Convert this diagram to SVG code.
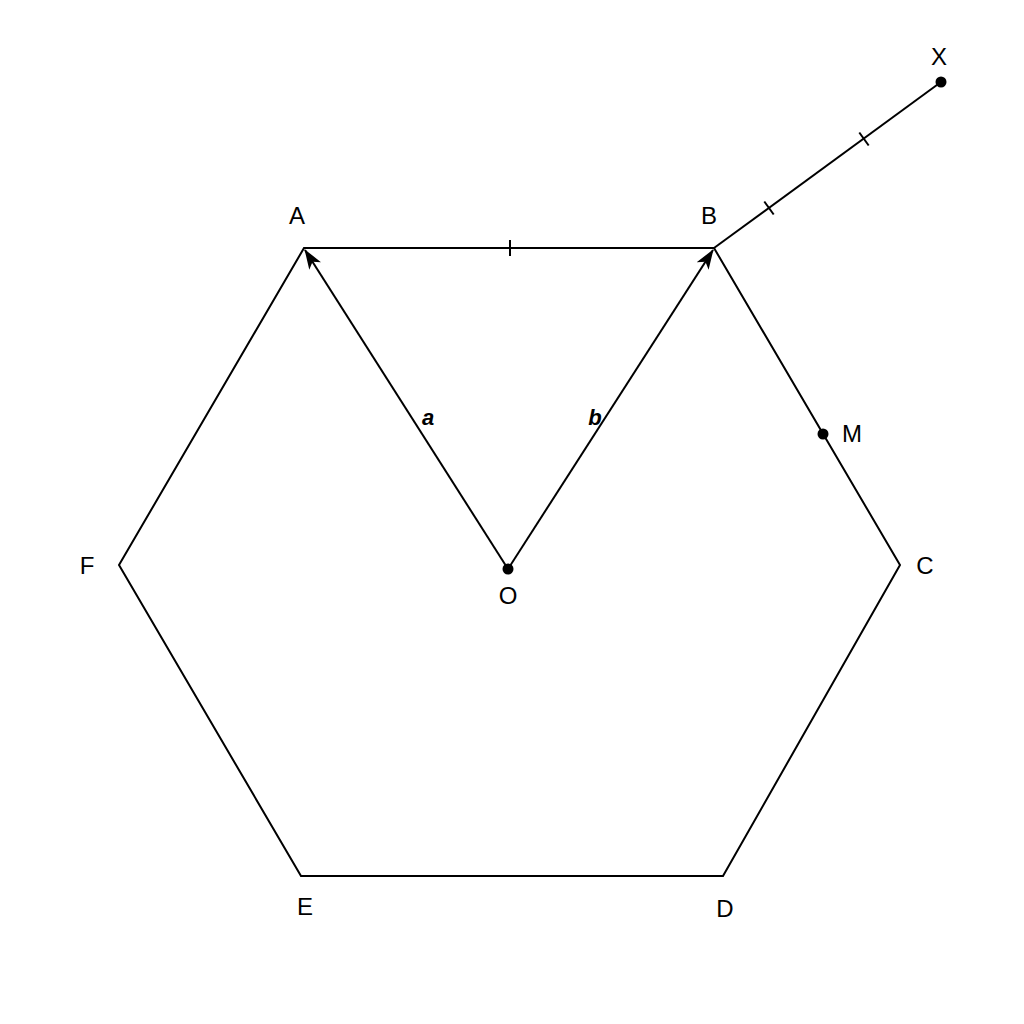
<svg xmlns="http://www.w3.org/2000/svg" width="1024" height="1024" viewBox="0 0 1024 1024">
<style>
.ln{stroke:#000;stroke-width:2;fill:none;stroke-linejoin:miter}
.lbl{font-family:"Liberation Sans",Arial,sans-serif;font-size:24px;fill:#000}
.vec{font-family:"Liberation Sans",Arial,sans-serif;font-size:22px;font-weight:bold;font-style:italic;fill:#000}
</style>
<defs>
<marker id="arr" viewBox="0 0 20 14" refX="19" refY="7" markerWidth="20" markerHeight="14" markerUnits="userSpaceOnUse" orient="auto">
<path d="M0,0 L20,7 L0,14 L5,7 Z" fill="#000"/>
</marker>
</defs>
<rect width="1024" height="1024" fill="#fff"/>
<g id="connectors">
<polygon class="ln" points="304,248 714,248 900,565 723,876 301,876 119,565"/>
<line class="ln" x1="714" y1="248" x2="941" y2="82"/>
<line class="ln" x1="508" y1="569" x2="305" y2="250" marker-end="url(#arr)"/>
<line class="ln" x1="508" y1="569" x2="713" y2="250" marker-end="url(#arr)"/>
<line class="ln" x1="510" y1="240" x2="510" y2="256"/>
<line class="ln" x1="764.3" y1="201.5" x2="773.7" y2="214.5"/>
<line class="ln" x1="859.3" y1="132.5" x2="868.7" y2="145.5"/>
</g>
<g id="A"><text class="lbl" x="297" y="224" text-anchor="middle">A</text></g>
<g id="B"><text class="lbl" x="709" y="224" text-anchor="middle">B</text></g>
<g id="C"><text class="lbl" x="925" y="574" text-anchor="middle">C</text></g>
<g id="D"><text class="lbl" x="725" y="917" text-anchor="middle">D</text></g>
<g id="E"><text class="lbl" x="305" y="915" text-anchor="middle">E</text></g>
<g id="F"><text class="lbl" x="87" y="574" text-anchor="middle">F</text></g>
<g id="O"><circle cx="508" cy="569" r="5.5" fill="#000"/><text class="lbl" x="508" y="604" text-anchor="middle">O</text></g>
<g id="M"><circle cx="823" cy="434" r="5.5" fill="#000"/><text class="lbl" x="852" y="442" text-anchor="middle">M</text></g>
<g id="X"><circle cx="941" cy="82" r="5.5" fill="#000"/><text class="lbl" x="939" y="65" text-anchor="middle">X</text></g>
<g id="labels"><text class="vec" x="428" y="425" text-anchor="middle">a</text><text class="vec" x="595" y="425" text-anchor="middle">b</text></g>
</svg>
